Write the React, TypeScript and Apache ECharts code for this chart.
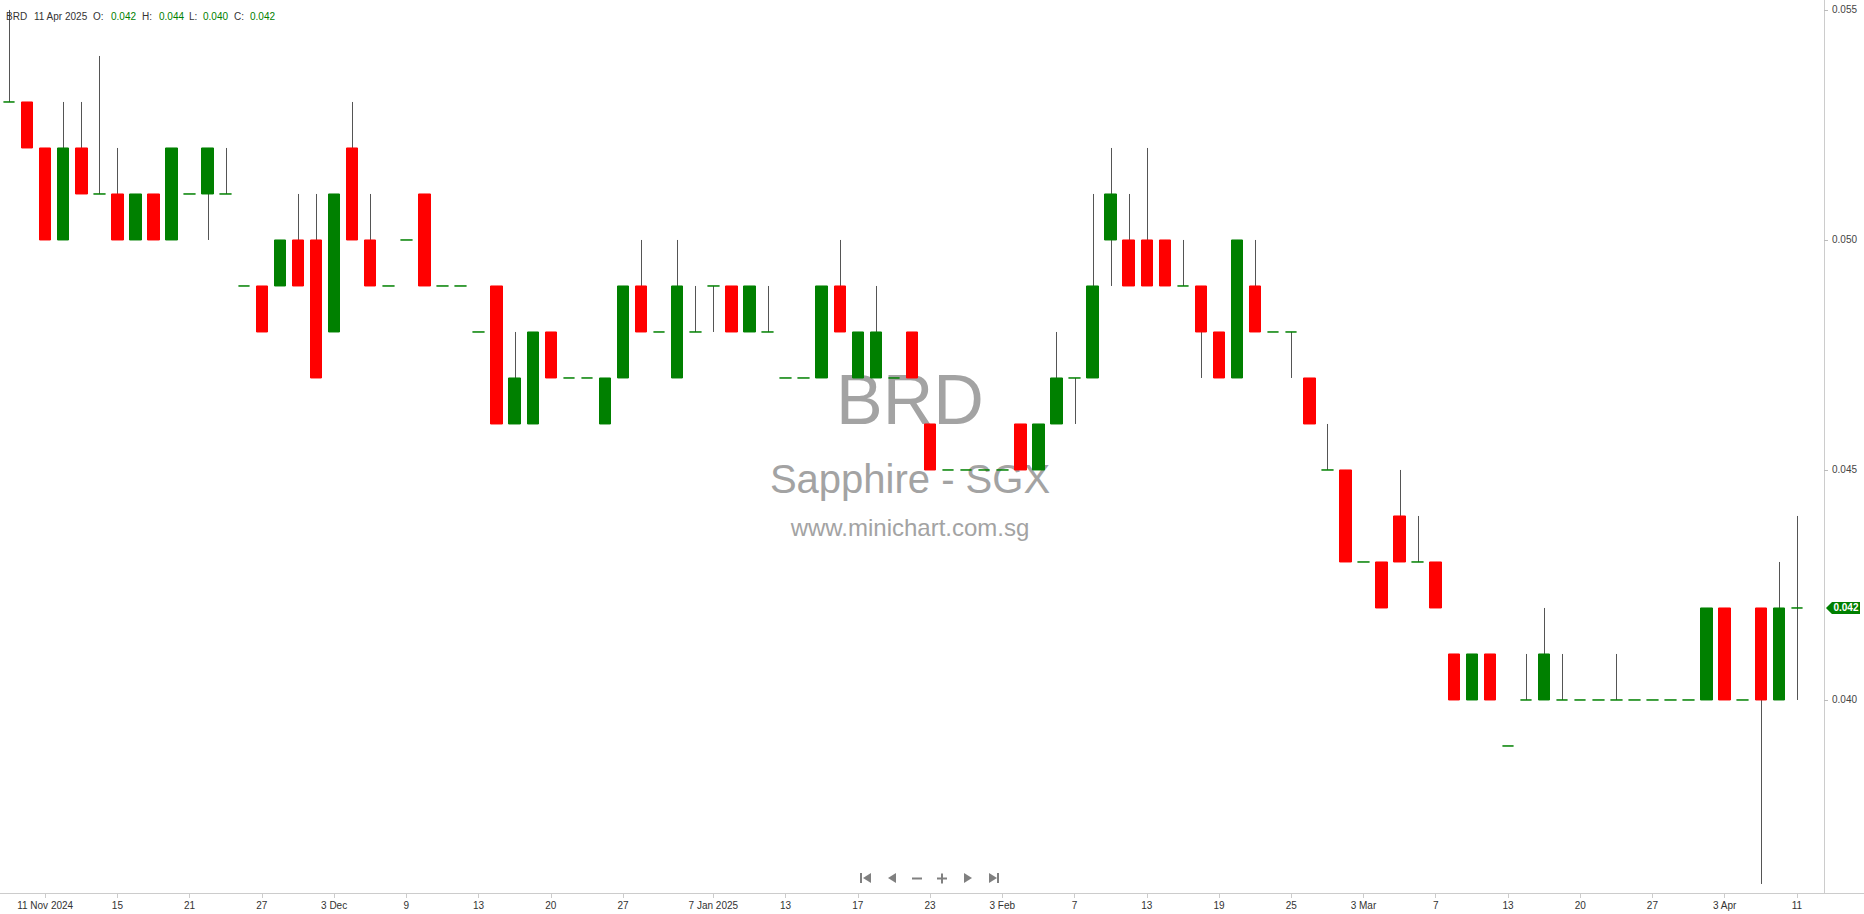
import React, { useEffect, useRef } from "react";
import * as echarts from "echarts";

const symbol = "BRD";
const exchangeName = "Sapphire - SGX";
const siteName = "www.minichart.com.sg";

const dates = [
  "2024-11-07", "2024-11-08", "2024-11-11", "2024-11-12", "2024-11-13", "2024-11-14", "2024-11-15", "2024-11-18", "2024-11-19", "2024-11-20",
  "2024-11-21", "2024-11-22", "2024-11-25", "2024-11-26", "2024-11-27", "2024-11-28", "2024-11-29", "2024-12-02", "2024-12-03", "2024-12-04",
  "2024-12-05", "2024-12-06", "2024-12-09", "2024-12-10", "2024-12-11", "2024-12-12", "2024-12-13", "2024-12-16", "2024-12-17", "2024-12-18",
  "2024-12-20", "2024-12-23", "2024-12-24", "2024-12-26", "2024-12-27", "2024-12-30", "2024-12-31", "2025-01-02", "2025-01-03", "2025-01-07",
  "2025-01-08", "2025-01-09", "2025-01-10", "2025-01-13", "2025-01-14", "2025-01-15", "2025-01-16", "2025-01-17", "2025-01-20", "2025-01-21",
  "2025-01-22", "2025-01-23", "2025-01-24", "2025-01-27", "2025-01-28", "2025-02-03", "2025-02-04", "2025-02-05", "2025-02-06", "2025-02-07",
  "2025-02-10", "2025-02-11", "2025-02-12", "2025-02-13", "2025-02-14", "2025-02-17", "2025-02-18", "2025-02-19", "2025-02-20", "2025-02-21",
  "2025-02-24", "2025-02-25", "2025-02-26", "2025-02-27", "2025-02-28", "2025-03-03", "2025-03-04", "2025-03-05", "2025-03-06", "2025-03-07",
  "2025-03-10", "2025-03-11", "2025-03-12", "2025-03-13", "2025-03-14", "2025-03-17", "2025-03-18", "2025-03-20", "2025-03-21", "2025-03-24",
  "2025-03-25", "2025-03-27", "2025-03-28", "2025-03-31", "2025-04-01", "2025-04-03", "2025-04-04", "2025-04-07", "2025-04-08", "2025-04-11",
];

const opens = [
  0.053, 0.053, 0.052, 0.050, 0.052, 0.051, 0.051, 0.050, 0.051, 0.050,
  0.051, 0.051, 0.051, 0.049, 0.049, 0.049, 0.050, 0.050, 0.048, 0.052,
  0.050, 0.049, 0.050, 0.051, 0.049, 0.049, 0.048, 0.049, 0.046, 0.046,
  0.048, 0.047, 0.047, 0.046, 0.047, 0.049, 0.048, 0.047, 0.048, 0.049,
  0.049, 0.048, 0.048, 0.047, 0.047, 0.047, 0.049, 0.047, 0.047, 0.047,
  0.048, 0.046, 0.045, 0.045, 0.045, 0.045, 0.046, 0.045, 0.046, 0.047,
  0.047, 0.050, 0.050, 0.050, 0.050, 0.049, 0.049, 0.048, 0.047, 0.049,
  0.048, 0.048, 0.047, 0.045, 0.045, 0.043, 0.043, 0.044, 0.043, 0.043,
  0.041, 0.040, 0.041, 0.039, 0.040, 0.040, 0.040, 0.040, 0.040, 0.040,
  0.040, 0.040, 0.040, 0.040, 0.040, 0.042, 0.040, 0.042, 0.040, 0.042,
];

const highs = [
  0.055, 0.053, 0.052, 0.053, 0.053, 0.054, 0.052, 0.051, 0.051, 0.052,
  0.051, 0.052, 0.052, 0.049, 0.049, 0.050, 0.051, 0.051, 0.051, 0.053,
  0.051, 0.049, 0.050, 0.051, 0.049, 0.049, 0.048, 0.049, 0.048, 0.048,
  0.048, 0.047, 0.047, 0.047, 0.049, 0.050, 0.048, 0.050, 0.049, 0.049,
  0.049, 0.049, 0.049, 0.047, 0.047, 0.049, 0.050, 0.048, 0.049, 0.047,
  0.048, 0.046, 0.045, 0.045, 0.045, 0.045, 0.046, 0.046, 0.048, 0.047,
  0.051, 0.052, 0.051, 0.052, 0.050, 0.050, 0.049, 0.048, 0.050, 0.050,
  0.048, 0.048, 0.047, 0.046, 0.045, 0.043, 0.043, 0.045, 0.044, 0.043,
  0.041, 0.041, 0.041, 0.039, 0.041, 0.042, 0.041, 0.040, 0.040, 0.041,
  0.040, 0.040, 0.040, 0.040, 0.042, 0.042, 0.040, 0.042, 0.043, 0.044,
];

const lows = [
  0.053, 0.052, 0.050, 0.050, 0.051, 0.051, 0.050, 0.050, 0.050, 0.050,
  0.051, 0.050, 0.051, 0.049, 0.048, 0.049, 0.049, 0.047, 0.048, 0.050,
  0.049, 0.049, 0.050, 0.049, 0.049, 0.049, 0.048, 0.046, 0.046, 0.046,
  0.047, 0.047, 0.047, 0.046, 0.047, 0.048, 0.048, 0.047, 0.048, 0.048,
  0.048, 0.048, 0.048, 0.047, 0.047, 0.047, 0.048, 0.047, 0.047, 0.047,
  0.047, 0.045, 0.045, 0.045, 0.045, 0.045, 0.045, 0.045, 0.046, 0.046,
  0.047, 0.049, 0.049, 0.049, 0.049, 0.049, 0.047, 0.047, 0.047, 0.048,
  0.048, 0.047, 0.046, 0.045, 0.043, 0.043, 0.042, 0.043, 0.043, 0.042,
  0.040, 0.040, 0.040, 0.039, 0.040, 0.040, 0.040, 0.040, 0.040, 0.040,
  0.040, 0.040, 0.040, 0.040, 0.040, 0.040, 0.040, 0.036, 0.040, 0.040,
];

const closes = [
  0.053, 0.052, 0.050, 0.052, 0.051, 0.051, 0.050, 0.051, 0.050, 0.052,
  0.051, 0.052, 0.051, 0.049, 0.048, 0.050, 0.049, 0.047, 0.051, 0.050,
  0.049, 0.049, 0.050, 0.049, 0.049, 0.049, 0.048, 0.046, 0.047, 0.048,
  0.047, 0.047, 0.047, 0.047, 0.049, 0.048, 0.048, 0.049, 0.048, 0.049,
  0.048, 0.049, 0.048, 0.047, 0.047, 0.049, 0.048, 0.048, 0.048, 0.047,
  0.047, 0.045, 0.045, 0.045, 0.045, 0.045, 0.045, 0.046, 0.047, 0.047,
  0.049, 0.051, 0.049, 0.049, 0.049, 0.049, 0.048, 0.047, 0.050, 0.048,
  0.048, 0.048, 0.046, 0.045, 0.043, 0.043, 0.042, 0.043, 0.043, 0.042,
  0.040, 0.041, 0.040, 0.039, 0.040, 0.041, 0.040, 0.040, 0.040, 0.040,
  0.040, 0.040, 0.040, 0.040, 0.042, 0.040, 0.040, 0.040, 0.042, 0.042,
];

const tickDates = [
  "2024-11-11", "2024-11-15", "2024-11-21", "2024-11-27", "2024-12-03", "2024-12-09", "2024-12-13", "2024-12-20", "2024-12-27",
  "2025-01-07", "2025-01-13", "2025-01-17", "2025-01-23", "2025-02-03", "2025-02-07", "2025-02-13", "2025-02-19", "2025-02-25",
  "2025-03-03", "2025-03-07", "2025-03-13", "2025-03-20", "2025-03-27", "2025-04-03", "2025-04-11",
];

const MONTHS = ["Jan", "Feb", "Mar", "Apr", "May", "Jun", "Jul", "Aug", "Sep", "Oct", "Nov", "Dec"];

const Y_MIN = 0.035804;
const Y_MAX = 0.055217;

const UP = "#008000";
const DOWN = "#ff0000";
const WICK = "#555555";
const AXIS = "#cccccc";
const FONT = '"Liberation Sans", Arial, sans-serif';

function parts(d: string) {
  const [y, m, day] = d.split("-").map(Number);
  return { y, m, day };
}

function tickLabel(d: string) {
  const k = tickDates.indexOf(d);
  if (k < 0) return "";
  const cur = parts(d);
  if (k === 0) return `${cur.day} ${MONTHS[cur.m - 1]} ${cur.y}`;
  const prev = parts(tickDates[k - 1]);
  if (prev.y !== cur.y) return `${cur.day} ${MONTHS[cur.m - 1]} ${cur.y}`;
  if (prev.m !== cur.m) return `${cur.day} ${MONTHS[cur.m - 1]}`;
  return `${cur.day}`;
}

export default function App() {
  const ref = useRef<HTMLDivElement>(null);

  useEffect(() => {
    if (!ref.current) return;
    const chart = echarts.init(ref.current, null, { renderer: "svg" });

    const n = dates.length;
    const last = n - 1;
    const lastDate = parts(dates[last]);
    const fmt = (v: number) => v.toFixed(3);

    const bodyData = dates.map((_, i) => [
      opens[i],
      closes[i],
      Math.min(opens[i], closes[i]),
      Math.max(opens[i], closes[i]),
    ]);
    const wickData = dates.map((_, i) => [i, lows[i], highs[i]]);

    const headerItems: { text: string; x: number; fill: string }[] = [
      { text: symbol, x: 6, fill: "#333" },
      { text: `${lastDate.day} ${MONTHS[lastDate.m - 1]} ${lastDate.y}`, x: 34, fill: "#333" },
      { text: "O:", x: 93, fill: "#333" },
      { text: fmt(opens[last]), x: 111, fill: UP },
      { text: "H:", x: 142, fill: "#333" },
      { text: fmt(highs[last]), x: 159, fill: UP },
      { text: "L:", x: 189, fill: "#333" },
      { text: fmt(lows[last]), x: 203, fill: UP },
      { text: "C:", x: 234, fill: "#333" },
      { text: fmt(closes[last]), x: 250, fill: UP },
    ];

    const navColor = "#808080";
    const graphics: any[] = [
      {
        type: "text", id: "wm1", x: 910, y: 400, z: 0, silent: true,
        style: { text: symbol, fill: "#a3a3a3", font: `70px ${FONT}`, align: "center", verticalAlign: "middle" },
      },
      {
        type: "text", id: "wm2", x: 910, y: 479, z: 0, silent: true,
        style: { text: exchangeName, fill: "#a3a3a3", font: `40px ${FONT}`, align: "center", verticalAlign: "middle" },
      },
      {
        type: "text", id: "wm3", x: 910, y: 527, z: 0, silent: true,
        style: { text: siteName, fill: "#a3a3a3", font: `24px ${FONT}`, align: "center", verticalAlign: "middle" },
      },
      ...headerItems.map((h, k) => ({
        type: "text", id: "hd" + k, x: h.x, y: 16, z: 10,
        style: { text: h.text, fill: h.fill, font: `10px ${FONT}`, align: "left", verticalAlign: "middle" },
      })),
      {
        type: "line", id: "baseline", z: 5,
        shape: { x1: 0, y1: 893.5, x2: 1864, y2: 893.5 },
        style: { stroke: AXIS, lineWidth: 1 },
      },
      // navigation buttons
      { type: "rect", id: "nav1a", shape: { x: 860, y: 873, width: 2, height: 10 }, style: { fill: navColor } },
      { type: "polygon", id: "nav1b", shape: { points: [[871, 873], [871, 883], [863, 878]] }, style: { fill: navColor } },
      { type: "polygon", id: "nav2", shape: { points: [[896, 873], [896, 883], [888, 878]] }, style: { fill: navColor } },
      { type: "rect", id: "nav3", shape: { x: 912, y: 877.5, width: 10, height: 2 }, style: { fill: navColor } },
      { type: "rect", id: "nav4a", shape: { x: 937, y: 877.5, width: 10, height: 2 }, style: { fill: navColor } },
      { type: "rect", id: "nav4b", shape: { x: 941, y: 873.5, width: 2, height: 10 }, style: { fill: navColor } },
      { type: "polygon", id: "nav5", shape: { points: [[964, 873], [964, 883], [972, 878]] }, style: { fill: navColor } },
      { type: "polygon", id: "nav6a", shape: { points: [[989, 873], [989, 883], [997, 878]] }, style: { fill: navColor } },
      { type: "rect", id: "nav6b", shape: { x: 997, y: 873, width: 2, height: 10 }, style: { fill: navColor } },
    ];

    const option: any = {
      animation: false,
      backgroundColor: "#ffffff",
      grid: { left: 0, right: 40, top: 0, bottom: 21, containLabel: false },
      xAxis: {
        type: "category",
        data: [...dates, ""],
        boundaryGap: true,
        axisLine: { show: true, lineStyle: { color: AXIS, width: 1 } },
        axisTick: {
          show: true,
          alignWithLabel: true,
          length: 5,
          lineStyle: { color: AXIS },
          interval: (_i: number, v: string) => tickDates.includes(v),
        },
        axisLabel: {
          interval: (_i: number, v: string) => tickDates.includes(v),
          formatter: (v: string) => tickLabel(v),
          color: "#333",
          fontSize: 10,
          fontFamily: FONT,
          margin: 7,
          hideOverlap: false,
        },
        splitLine: { show: false },
      },
      yAxis: {
        type: "value",
        position: "right",
        min: Y_MIN,
        max: Y_MAX,
        splitNumber: 4,
        minInterval: 0.005,
        maxInterval: 0.005,
        scale: true,
        axisLine: { show: true, lineStyle: { color: AXIS, width: 1 } },
        axisTick: { show: true, length: 4, lineStyle: { color: "#bbbbbb" } },
        axisLabel: {
          formatter: (v: number) => v.toFixed(3),
          color: "#444",
          fontSize: 10,
          fontFamily: FONT,
          margin: 8,
          showMinLabel: false,
          showMaxLabel: false,
        },
        splitLine: { show: false },
      },
      series: [
        {
          type: "custom",
          name: "wick",
          z: 2,
          data: wickData,
          encode: { x: 0, y: [1, 2] },
          renderItem: (_params: any, api: any) => {
            const lo = api.coord([api.value(0), api.value(1)]);
            const hi = api.coord([api.value(0), api.value(2)]);
            const x = Math.round(lo[0]) + 0.5;
            return {
              type: "line",
              shape: { x1: x, y1: lo[1], x2: x, y2: hi[1] },
              style: { stroke: WICK, lineWidth: 1 },
            };
          },
        },
        {
          type: "candlestick",
          name: symbol,
          z: 3,
          barWidth: 12,
          data: bodyData,
          itemStyle: {
            color: UP,
            color0: DOWN,
            borderColor: UP,
            borderColor0: DOWN,
            borderColorDoji: UP,
            borderWidth: 1,
          },
        },
      ],
      graphic: graphics,
    };

    chart.setOption(option);

    const yLast = chart.convertToPixel({ yAxisIndex: 0 }, closes[last]) as number;
    const axisX = chart.convertToPixel({ xAxisIndex: 0 }, n) as number;
    const edge = axisX + 9 + 2;
    const tag = [
      {
        type: "polygon", id: "tagShape", z: 20,
        shape: {
          points: [
            [edge, yLast],
            [edge + 6, yLast - 6],
            [1860, yLast - 6],
            [1860, yLast + 6],
            [edge + 6, yLast + 6],
          ],
        },
        style: { fill: UP },
      },
      {
        type: "text", id: "tagText", z: 21, x: edge + 20, y: yLast,
        style: { text: fmt(closes[last]), fill: "#ffffff", font: `bold 10px ${FONT}`, align: "center", verticalAlign: "middle" },
      },
    ];
    chart.setOption({ graphic: [...graphics, ...tag] });

    return () => chart.dispose();
  }, []);

  return (
    <div
      ref={ref}
      style={{ position: "fixed", left: 0, top: 0, width: "1864px", height: "914px", background: "#fff" }}
    />
  );
}
